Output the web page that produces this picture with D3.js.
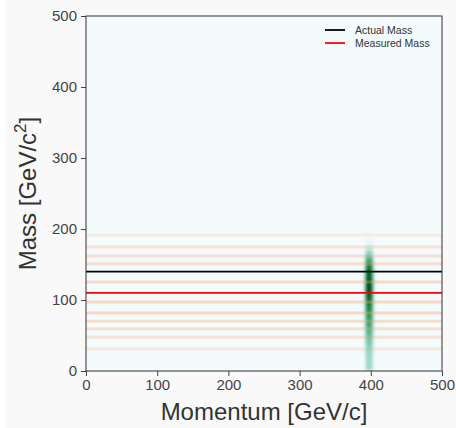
<!DOCTYPE html>
<html>
<head>
<meta charset="utf-8">
<script src="https://cdn.jsdelivr.net/npm/d3@7"></script>
<style>
  body { margin: 0; background: #ffffff; }
  svg { display: block; }
  text { font-family: "Liberation Sans", Arial, sans-serif; }
</style>
</head>
<body>
<script>
// Tick labels
var xTicks = [0, 100, 200, 300, 400, 500];
var yTicks = [0, 100, 200, 300, 400, 500];

// Reference masses
var actualMass = 140;
var measuredMass = 110;

// Smeared mass hypotheses (horizontal orange bands) and their weight
var bandMasses  = [31, 47.5, 59.6, 70, 81.7, 97.2, 125.4, 151, 162, 174.6, 191.5];
var bandWeights = [0.25, 0.45, 0.55, 0.6, 0.75, 0.75, 0.7, 0.55, 0.5, 0.45, 0.2];

// 2D histogram of the reconstructed events: mass bins (10 GeV) x momentum bins (2 GeV)
var massBins = [0, 10, 20, 30, 40, 50, 60, 70, 80, 90, 100, 110, 120, 130, 140, 150, 160, 170, 180, 190];
var massDensity = [0.32, 0.32, 0.34, 0.38, 0.45, 0.55, 0.62, 0.68, 0.74, 0.82, 0.92, 1.0, 0.97, 0.93, 0.86, 0.68, 0.4, 0.18, 0.07, 0.02];
var momBins = [386, 388, 390, 392, 394, 396, 398, 400, 402, 404, 406, 408];
var momProfile = [0.02, 0.08, 0.3, 0.7, 0.95, 1.0, 1.0, 0.88, 0.55, 0.2, 0.06, 0.01];

var W = 456, H = 428;
var margin = {left: 86, right: 14, top: 16, bottom: 57};

var svg = d3.select('body').append('svg')
    .attr('width', W)
    .attr('height', H);

// figure background
svg.append('rect').attr('x', 5).attr('y', 0).attr('width', W - 5).attr('height', H).attr('fill', '#f9f9f9');

var x = d3.scaleLinear().domain([0, 500]).range([margin.left, W - margin.right]);
var y = d3.scaleLinear().domain([0, 500]).range([H - margin.bottom, margin.top]);

var defs = svg.append('defs');
defs.append('clipPath').attr('id', 'plotclip')
  .append('rect')
    .attr('x', x(0)).attr('y', y(500))
    .attr('width', x(500) - x(0)).attr('height', y(0) - y(500));
defs.append('filter').attr('id', 'blur')
    .attr('x', '-50%').attr('y', '-10%').attr('width', '200%').attr('height', '120%')
  .append('feGaussianBlur').attr('stdDeviation', '1.0 2.5');

// plot background (lowest colour of the BuGn map)
svg.append('rect')
    .attr('x', x(0)).attr('y', y(500))
    .attr('width', x(500) - x(0)).attr('height', y(0) - y(500))
    .attr('fill', d3.interpolateBuGn(0.02));

var plot = svg.append('g').attr('clip-path', 'url(#plotclip)');

// histogram cells
var cells = [];
for (var i = 0; i < massBins.length; i++)
  for (var j = 0; j < momBins.length; j++)
    cells.push({m: massBins[i], p: momBins[j], v: massDensity[i] * momProfile[j]});

var color = function(v) { return d3.interpolateBuGn(0.08 + 0.92 * v); };

plot.append('g').attr('filter', 'url(#blur)')
  .selectAll('rect')
  .data(cells.filter(function(d) { return d.v > 0.005; }))
  .enter().append('rect')
    .attr('x', function(d) { return x(d.p); })
    .attr('y', function(d) { return y(d.m + 10); })
    .attr('width', function(d) { return x(d.p + 2) - x(d.p) + 0.3; })
    .attr('height', function(d) { return y(d.m) - y(d.m + 10) + 0.3; })
    .attr('fill', function(d) { return color(d.v); })
    .attr('fill-opacity', function(d) { return Math.min(1, d.v * 4); });

// orange bands
plot.append('g').selectAll('line')
  .data(bandMasses)
  .enter().append('line')
    .attr('x1', x(0)).attr('x2', x(500))
    .attr('y1', function(d) { return y(d); })
    .attr('y2', function(d) { return y(d); })
    .attr('stroke', '#fc9a6c')
    .attr('stroke-width', 3)
    .attr('stroke-opacity', function(d, i) { return 0.1 + 0.35 * bandWeights[i]; });

// actual / measured mass
plot.append('line')
    .attr('x1', x(0)).attr('x2', x(500))
    .attr('y1', y(actualMass)).attr('y2', y(actualMass))
    .attr('stroke', '#000').attr('stroke-width', 1.8);
plot.append('line')
    .attr('x1', x(0)).attr('x2', x(500))
    .attr('y1', y(measuredMass)).attr('y2', y(measuredMass))
    .attr('stroke', '#ff0000').attr('stroke-width', 1.8);

// axes
var xAxis = svg.append('g')
    .attr('transform', 'translate(0,' + y(0) + ')')
    .call(d3.axisBottom(x).tickValues(xTicks).tickSize(5).tickPadding(3));
var yAxis = svg.append('g')
    .attr('transform', 'translate(' + x(0) + ',0)')
    .call(d3.axisLeft(y).tickValues(yTicks).tickSize(5).tickPadding(4));

[xAxis, yAxis].forEach(function(a) {
  a.select('.domain').remove();
  a.selectAll('line').attr('stroke', '#444');
  a.selectAll('text').attr('fill', '#444').attr('font-size', 15)
    .style('font-family', '"Liberation Sans", Arial, sans-serif');
});

// spines
svg.append('rect')
    .attr('x', x(0)).attr('y', y(500))
    .attr('width', x(500) - x(0)).attr('height', y(0) - y(500))
    .attr('fill', 'none').attr('stroke', '#333').attr('stroke-width', 1);

// axis labels
svg.append('text')
    .attr('x', (x(0) + x(500)) / 2).attr('y', 420)
    .attr('text-anchor', 'middle')
    .attr('font-size', 24).attr('fill', '#333')
    .text('Momentum [GeV/c]');

var yl = svg.append('text')
    .attr('transform', 'translate(36,' + ((y(0) + y(500)) / 2) + ') rotate(-90)')
    .attr('text-anchor', 'middle')
    .attr('font-size', 24).attr('fill', '#333');
yl.append('tspan').text('Mass [GeV/c');
yl.append('tspan').attr('dy', -10).attr('font-size', 17).text('2');
yl.append('tspan').attr('dy', 10).text(']');

// legend
var legend = [
  {label: 'Actual Mass', color: '#000'},
  {label: 'Measured Mass', color: '#ff0000'}
];
var lg = svg.append('g').attr('transform', 'translate(325,30)');
lg.selectAll('line').data(legend).enter().append('line')
    .attr('x1', 0).attr('x2', 20)
    .attr('y1', function(d, i) { return i * 13; })
    .attr('y2', function(d, i) { return i * 13; })
    .attr('stroke', function(d) { return d.color; })
    .attr('stroke-width', 1.8);
lg.selectAll('text').data(legend).enter().append('text')
    .attr('x', 30)
    .attr('y', function(d, i) { return i * 13 + 3.5; })
    .attr('font-size', 10.5).attr('fill', '#333')
    .text(function(d) { return d.label; });
</script>
</body>
</html>
